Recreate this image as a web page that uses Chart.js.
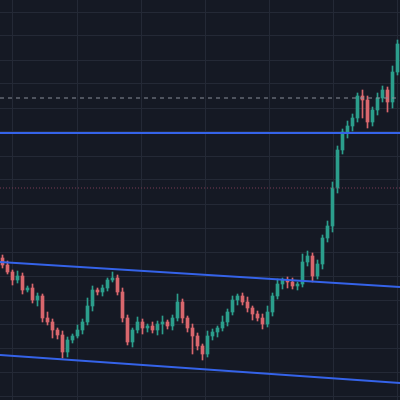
<!DOCTYPE html>
<html><head><meta charset="utf-8">
<script src="https://cdn.jsdelivr.net/npm/chart.js@4"></script>
<style>html,body{margin:0;padding:0;background:#151924;}#w{width:400px;height:400px;}</style>
</head><body><div id="w"><canvas id="c"></canvas></div>
<script>
// closes as screen-depth values (price = 400 - value), one candle every 5 px
const closeDepth = [
265,272,280,276,290,288,300,296,318,322,
330,335,352,340,336,330,322,306,290,292,
288,280,278,292,318,342,330,322,328,326,
330,324,322,326,318,302,318,328,336,346,
354,336,332,328,322,312,300,296,302,308,
314,318,324,312,296,284,280,282,286,284,
262,256,276,264,238,226,188,150,132,126,
118,96,100,122,110,98,90,102,72,44];
const wickUp = [
3,4,2,5,3,2,4,3,2,6,3,2,4,3,2,5,3,8,4,2,
3,2,6,3,4,3,2,5,3,2,4,3,6,2,3,8,3,2,4,3,
2,5,3,2,6,3,4,2,3,5,2,3,4,6,3,5,2,3,4,2,
8,5,3,4,3,5,6,4,3,5,4,3,6,4,3,5,4,3,6,4];
const wickDn = [
3,2,5,3,4,2,3,6,4,3,8,4,6,5,3,2,4,3,5,3,
4,3,2,3,4,3,5,3,6,4,3,5,10,3,4,3,5,4,18,4,
6,3,4,5,3,4,3,5,3,4,6,3,5,3,4,3,5,6,3,4,
3,4,6,3,5,4,6,5,4,6,5,4,18,6,4,5,4,10,6,3];
const upperChannel = [262, 287];
const lowerChannel = [355, 383];
const resistance = 133, dashedLevel = 98, dottedLevel = 188;

const P = v => 400 - v;
const bodies = [], wicks = [], colors = [];
for (let i = 0; i < closeDepth.length; i++) {
  const c = P(closeDepth[i]);
  const o = i === 0 ? P(258) : P(closeDepth[i - 1]);
  const hi = Math.max(o, c) + wickUp[i], lo = Math.min(o, c) - wickDn[i];
  const x = 2.5 + 5 * i;
  bodies.push({x, y: [Math.min(o, c), Math.max(o, c) + (o === c ? 1 : 0)]});
  wicks.push({x, y: [lo, hi]});
  colors.push(c >= o ? '#2c9e8c' : '#d9676d');
}
const hline = (v) => [{x: 0, y: P(v)}, {x: 400, y: P(v)}];
new Chart(document.getElementById('c'), {
  type: 'bar',
  data: { datasets: [
    {type: 'line', data: [{x:0,y:P(upperChannel[0])},{x:400,y:P(upperChannel[1])}], borderColor:'#3563e9', borderWidth:2, pointRadius:0},
    {type: 'line', data: [{x:0,y:P(lowerChannel[0])},{x:400,y:P(lowerChannel[1])}], borderColor:'#3563e9', borderWidth:2, pointRadius:0},
    {type: 'line', data: hline(resistance), borderColor:'#3563e9', borderWidth:2, pointRadius:0},
    {type: 'line', data: hline(dashedLevel), borderColor:'#8a8f99', borderWidth:1, borderDash:[4,4], pointRadius:0},
    {type: 'line', data: hline(dottedLevel), borderColor:'#7a3c55', borderWidth:1, borderDash:[1,2], pointRadius:0},
    {data: wicks, backgroundColor: colors, barThickness: 1, grouped: false},
    {data: bodies, backgroundColor: colors, barThickness: 3, grouped: false}
  ]},
  options: {
    responsive: true, maintainAspectRatio: false, animation: false,
    layout: {padding: 0},
    plugins: {legend: {display: false}, tooltip: {enabled: false}},
    scales: {
      x: {type: 'linear', min: 0, max: 400, offset: false,
          afterBuildTicks: a => { a.ticks = [45,109,173,237,301,365].map(v => ({value: v})); },
          ticks: {display: false}, border: {display: false}, grid: {color: '#242936', drawTicks: false}},
      y: {min: 0, max: 400,
          afterBuildTicks: a => { const t = []; for (let v = 4; v < 400; v += 24) t.push({value: v}); a.ticks = t; },
          ticks: {display: false}, border: {display: false}, grid: {color: '#242936', drawTicks: false}}
    }
  }
});
</script></body></html>
